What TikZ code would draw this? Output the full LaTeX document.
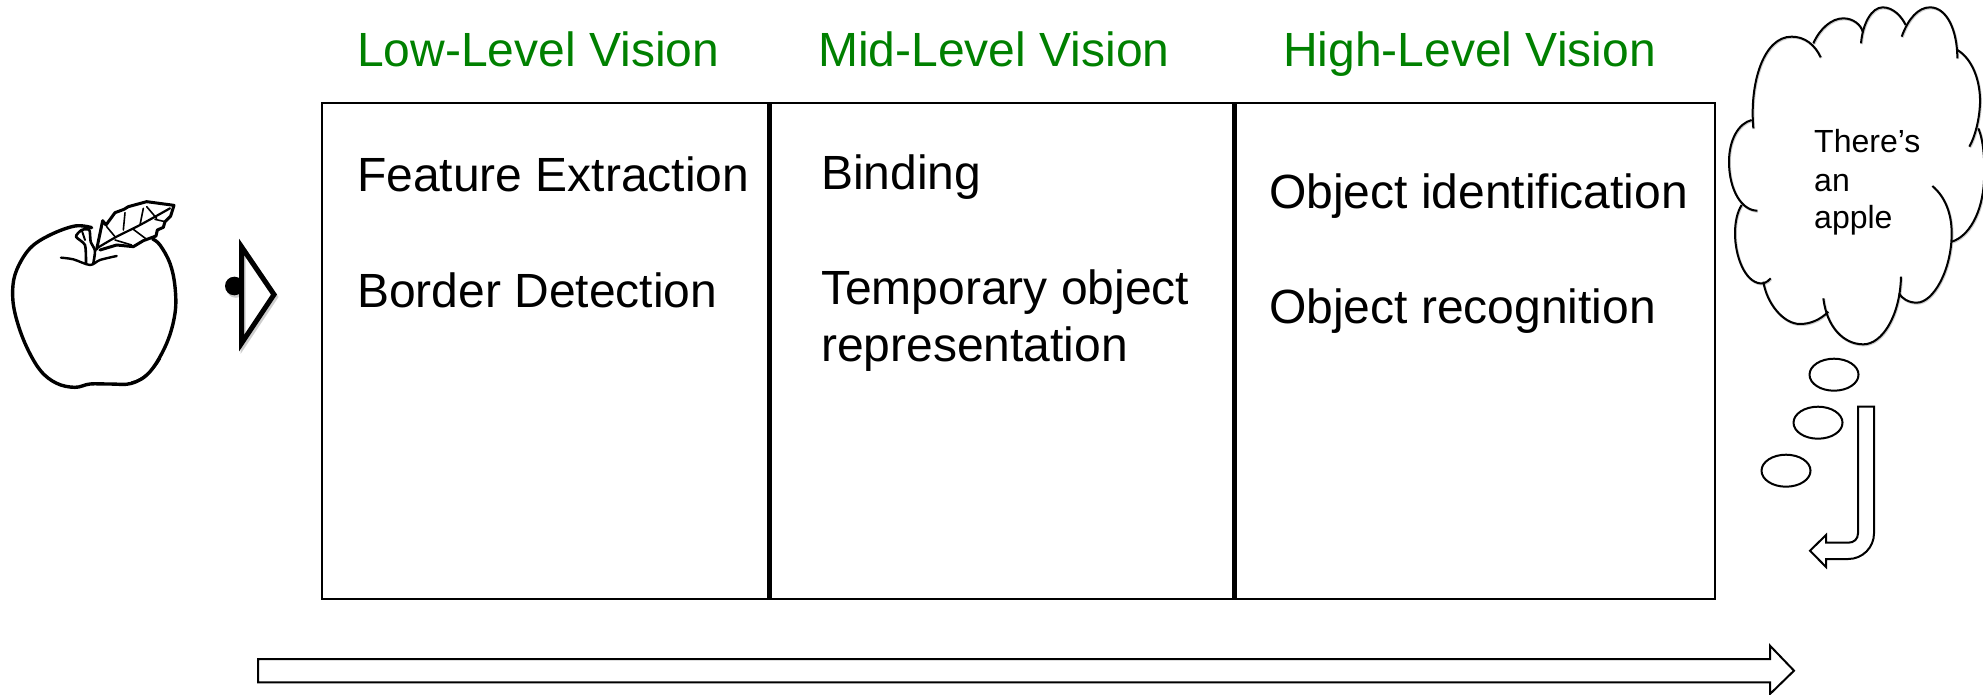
\documentclass[tikz,border=0pt]{standalone}
\usepackage{fontspec}
\setmainfont{Liberation Sans}
\definecolor{lvl}{RGB}{0,128,0}
\definecolor{shd}{RGB}{205,205,205}
\newcommand{\cloudpaths}[1]{%
 \draw[#1] (160,385) .. controls (148,250) and (190,110) .. (275,110) .. controls (315,110) and (345,135) .. (362,172);
 \draw[#1] (340,130) .. controls (360,85) and (395,55) .. (430,55) .. controls (460,55) and (483,75) .. (488,95);
 \draw[#1] (483,130) .. controls (488,70) and (515,22) .. (548,22) .. controls (580,22) and (605,50) .. (617,75);
 \draw[#1] (605,110) .. controls (625,55) and (655,22) .. (690,22) .. controls (740,22) and (772,90) .. (772,175);
 \draw[#1] (772,150) .. controls (815,175) and (842,240) .. (840,310) .. controls (838,360) and (825,410) .. (808,440);
 \draw[#1] (835,385) .. controls (850,420) and (855,480) .. (852,540) .. controls (848,640) and (805,710) .. (755,725);
 \draw[#1] (697,558) .. controls (735,590) and (755,640) .. (755,700) .. controls (755,810) and (700,908) .. (650,908) .. controls (625,908) and (605,895) .. (597,880);
 \draw[#1] (603,830) .. controls (600,950) and (545,1033) .. (490,1033) .. controls (430,1033) and (380,980) .. (370,895);
 \draw[#1] (385,935) .. controls (360,960) and (330,972) .. (300,972) .. controls (250,972) and (200,910) .. (190,845);
 \draw[#1] (212,835) .. controls (200,848) and (190,852) .. (180,850) .. controls (135,845) and (105,770) .. (105,700) .. controls (105,665) and (112,635) .. (125,615);
 \draw[#1] (172,632) .. controls (125,632) and (87,570) .. (87,485) .. controls (87,420) and (115,370) .. (155,360);
}
\tikzset{
 heading/.style={anchor=base west,text=lvl,font=\fontsize{48}{54}\selectfont,inner sep=0pt},
 bodytext/.style={anchor=base west,font=\fontsize{48}{54}\selectfont,inner sep=0pt},
 thought/.style={anchor=base west,font=\fontsize{32}{38}\selectfont,inner sep=0pt},
 outline/.style={draw=black,line width=2pt,fill=white,line join=miter},
 bubble/.style={draw=black,line width=2pt},
 divider/.style={draw=black,line width=5pt},
 ink/.style={draw=black,line cap=round,line join=round},
}
\begin{document}
\begin{tikzpicture}[x=1pt,y=-1pt]
\useasboundingbox (0,0) rectangle (1983,695);
% panel
\draw[draw=black,line width=2pt] (321.5,103) rectangle (1714.5,599);
\draw[divider] (769,103) -- (769,599);
\draw[divider] (1234,103) -- (1234,599);
% headings
\node[heading] (low) at (357,67) {Low-Level Vision};
\node[heading] (mid) at (818,67) {Mid-Level Vision};
\node[heading] (high) at (1283,67) {High-Level Vision};
% body
\node[bodytext] (fe) at (357,192) {Feature Extraction};
\node[bodytext] (bd) at (357,307.5) {Border Detection};
\node[bodytext] (bi) at (821,190) {Binding};
\node[bodytext] (to) at (821,304.5) {Temporary object};
\node[bodytext] (re) at (821,361) {representation};
\node[bodytext] (oi) at (1269,208) {Object identification};
\node[bodytext] (or) at (1269,323) {Object recognition};
% apple
\begin{scope}[shift={(0,180)},x=1/3*1pt,y=-1/3*1pt]
 \draw[ink,line width=3.4pt] plot[smooth,tension=.6] coordinates {(275,143)(225,138)(150,165)(90,205)(50,270)(38,330)(45,400)(75,490)(120,570)(170,610)(225,622)(270,612)(330,612)(395,610)(450,575)(500,490)(525,400)(525,320)(510,250)(480,195)(458,177)};
 \draw[ink,line width=2.6pt] (395,608) .. controls (430,600) and (460,570) .. (480,535);
 \draw[ink,line width=2.4pt] plot[smooth,tension=.5] coordinates {(183,233)(220,238)(270,255)(300,240)(350,228)};
 \draw[ink,line width=2.6pt] plot[smooth,tension=.4] coordinates {(258,250)(255,195)(228,170)(245,150)(268,150)(272,185)(285,212)(280,250)};
 \draw[ink,line width=2pt] (245,150) -- (255,180);
 \draw[ink,line width=3pt] (290,208) -- (308,122) -- (318,135) -- (345,98) -- (372,88) -- (385,80) -- (440,65) -- (522,76) -- (512,108) -- (495,125) -- (490,142) -- (472,150) -- (468,168) -- (430,182) -- (400,200) -- (350,195) -- (300,210);
 \draw[ink,line width=2.2pt] plot[smooth,tension=.5] coordinates {(290,205)(350,170)(420,135)(510,85)};
 \draw[ink,line width=1.6pt] (345,170) -- (320,140) (370,150) -- (375,98) (420,135) -- (430,85) (465,118) -- (495,125) (400,148) -- (440,178) (345,180) -- (395,195) (470,115) -- (440,80);
\end{scope}
% eye
\begin{scope}[shift={(1.5,2.5)}]
 \fill[shd] (234.3,286) circle (9.3);
 \draw[shd,line width=5pt] (241.7,247) -- (241.7,343) -- (274,294.5) -- cycle;
\end{scope}
\fill[black] (234.3,286) circle (9.3);
\draw[black,line width=5pt] (241.7,247) -- (241.7,343) -- (274,294.5) -- cycle;
% cloud
\begin{scope}[shift={(1700,0)},x=1/3*1pt,y=-1/3*1pt]
 \begin{scope}[shift={(2,2.5)}]
  \cloudpaths{shd,line width=2.4pt}
 \end{scope}
 \cloudpaths{black,line width=2pt}
\end{scope}
\node[thought] (t1) at (1814,153) {There’s};
\node[thought] (t2) at (1814,192) {an};
\node[thought] (t3) at (1814,229) {apple};
% thought bubbles
\draw[bubble] (1834,374.7) ellipse (24.5 and 16);
\draw[bubble] (1818,422.7) ellipse (24.5 and 16);
\draw[bubble] (1786,470.7) ellipse (24.5 and 16);
% bent arrow
\draw[outline] (1858,406.7) -- (1874,406.7) -- (1874,533.3) .. controls (1874,547.5) and (1862.5,559) .. (1848.3,559) -- (1826,559) -- (1826,567) -- (1810,550.7) -- (1826,535) -- (1826,542.7) -- (1848.3,542.7) .. controls (1854,542.7) and (1858,539) .. (1858,533.3) -- cycle;
% long arrow
\draw[outline] (258,659) -- (1770,659) -- (1770,645.7) -- (1794,670.7) -- (1770,694) -- (1770,682.3) -- (258,682.3) -- cycle;
\end{tikzpicture}
\end{document}
